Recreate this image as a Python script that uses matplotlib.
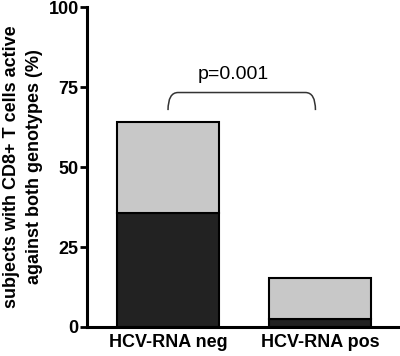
import matplotlib
matplotlib.use("Agg")
import matplotlib.pyplot as plt
from matplotlib.path import Path
from matplotlib.patches import PathPatch

# values
groups = ["HCV-RNA neg", "HCV-RNA pos"]
dark_part = [35.5, 2.5]
light_part = [28.7, 12.8]
y_ticks = [0, 25, 50, 75, 100]
p_label = "p=0.001"

plt.rcParams["font.family"] = ["Liberation Sans", "DejaVu Sans"]

fig = plt.figure(figsize=(4.0, 3.56), dpi=100)
ax = fig.add_axes([0.2175, 0.0815, 0.7775, 0.8985])

xpos = list(range(len(groups)))
ax.bar(xpos, dark_part, width=0.67, color="#222222", edgecolor="black", linewidth=1.5)
ax.bar(xpos, light_part, width=0.67, bottom=dark_part, color="#c8c8c8",
       edgecolor="black", linewidth=1.5)

# significance bracket with rounded corners
x0, x1, yb, yt, r = 0.0, 0.97, 67.8, 73.3, 0.066
verts = [(x0, yb), (x0, yt), (x0 + r, yt), (x1 - r, yt), (x1, yt), (x1, yb)]
codes = [Path.MOVETO, Path.CURVE3, Path.CURVE3, Path.LINETO, Path.CURVE3, Path.CURVE3]
ax.add_patch(PathPatch(Path(verts, codes), fill=False, edgecolor="#333333", linewidth=1.1))
ax.text(0.43, 79.0, p_label, ha="center", va="center", fontsize=14)

ax.set_xlim(-0.533, 1.513)
ax.set_ylim(0, 100)
ax.set_yticks(y_ticks)
ax.set_xticks(xpos)
ax.set_xticklabels(groups, fontsize=13, fontweight="bold")
ax.set_yticklabels([str(t) for t in y_ticks], fontsize=13, fontweight="bold")
ax.tick_params(axis="y", length=5, width=2, pad=1)
ax.tick_params(axis="x", length=0, pad=5)

for side in ["top", "right"]:
    ax.spines[side].set_visible(False)
for side in ["left", "bottom"]:
    ax.spines[side].set_linewidth(2.2)

ax.set_ylabel("subjects with CD8+ T cells active\nagainst both genotypes (%)",
              fontsize=13, fontweight="bold", labelpad=4, linespacing=1.45)

fig.savefig("out.png", dpi=100)
